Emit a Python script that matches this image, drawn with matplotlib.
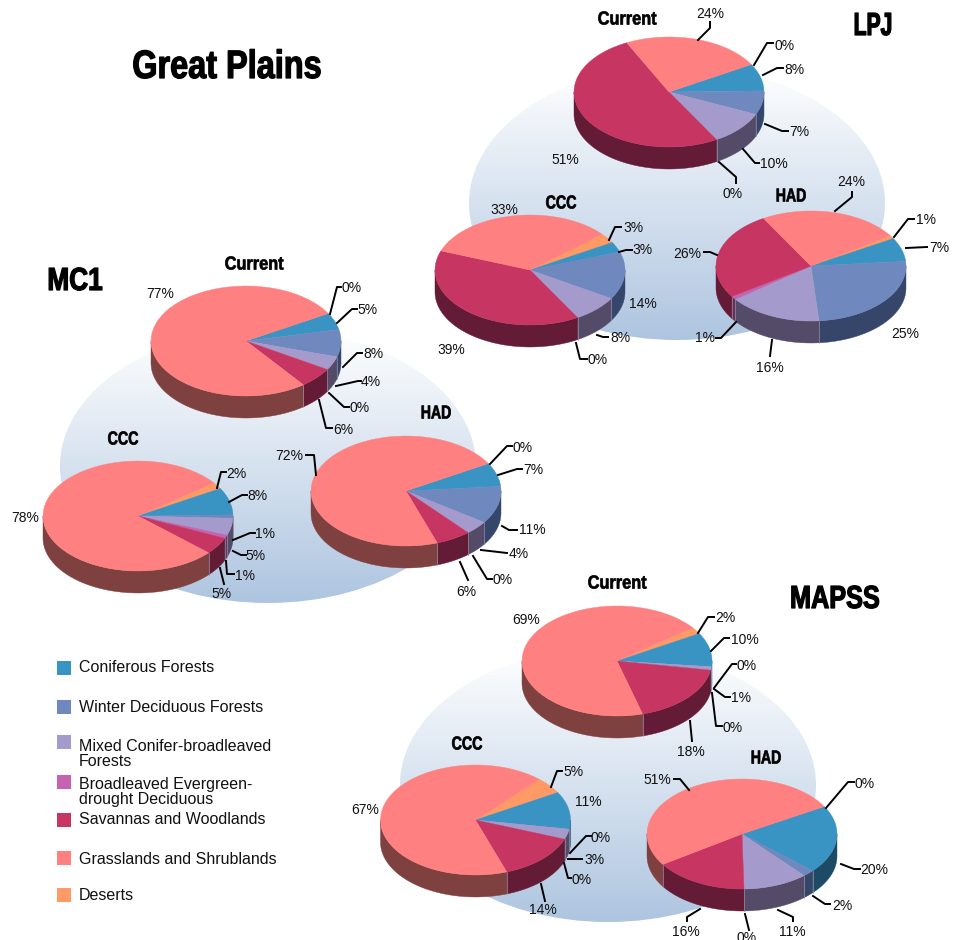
import numpy as np
import matplotlib
matplotlib.use("Agg")
import matplotlib.pyplot as plt
from matplotlib.colors import LinearSegmentedColormap
from matplotlib.patches import Ellipse, Polygon, Rectangle
from matplotlib.transforms import Affine2D
import matplotlib.patheffects as pe

# slice order is clockwise, as the labels go round each pie
biomes = ["Deserts", "Coniferous Forests", "Winter Deciduous Forests",
          "Mixed Conifer-broadleaved\nForests", "Broadleaved Evergreen-\ndrought Deciduous",
          "Savannas and Woodlands", "Grasslands and Shrublands"]
top_colors = ["#FF9966", "#3993C3", "#6F88BE", "#A49ACB", "#C463B0", "#C73663", "#FF8080"]
side_colors = ["#7F5233", "#1D4B66", "#36466A", "#534B68", "#623258", "#631B36", "#7F4040"]

lpj_current = [0, 8, 7, 10, 0, 51, 24]
lpj_ccc = [3, 3, 14, 8, 0, 39, 33]
lpj_had = [1, 7, 25, 16, 1, 26, 24]
mc1_current = [0, 5, 8, 4, 0, 6, 77]
mc1_ccc = [2, 8, 1, 5, 1, 5, 78]
mc1_had = [0, 7, 11, 4, 0, 6, 72]
mapss_current = [2, 10, 0, 1, 0, 18, 69]
mapss_ccc = [5, 11, 0, 3, 0, 14, 67]
mapss_had = [0, 20, 2, 11, 0, 16, 51]

# everything below is laid out in image pixels
RX, RY, DEPTH = 95, 55, 22
CONIFER_START = 30

# label position and leader line for each slice
lpj_current_labels = [
    (785, 44, [(754, 65), (767, 43), (773, 43)]),
    (794, 68, [(763, 75), (777, 68), (783, 68)]),
    (799, 131, [(765, 124), (782, 131), (788, 131)]),
    (774, 163, [(743, 149), (755, 163), (759, 163)]),
    (733, 193, [(719, 162), (736, 177), (736, 183)]),
    (565, 158, None),
    (710, 13, [(698, 40), (710, 28), (710, 22)]),
]
lpj_ccc_labels = [
    (633, 227, [(609, 240), (615, 227), (621, 227)]),
    (642, 249, [(619, 252), (626, 250), (632, 250)]),
    (643, 302, None),
    (620, 337, [(597, 335), (603, 337), (608, 337)]),
    (598, 359, [(576, 343), (580, 359), (587, 359)]),
    (451, 348, None),
    (504, 209, None),
]
lpj_had_labels = [
    (926, 219, [(894, 237), (908, 219), (914, 219)]),
    (939, 246, [(906, 248), (927, 247)]),
    (905, 332, None),
    (770, 367, [(772, 340), (770, 356)]),
    (705, 337, [(736, 322), (721, 338), (716, 338)]),
    (687, 252, [(717, 255), (710, 252), (704, 252)]),
    (851, 181, [(835, 211), (852, 197), (852, 192)]),
]
mc1_current_labels = [
    (352, 287, [(330, 314), (337, 287), (341, 287)]),
    (368, 308, [(337, 323), (352, 309), (357, 309)]),
    (373, 353, [(343, 367), (357, 353), (362, 353)]),
    (371, 381, [(336, 386), (358, 381), (361, 381)]),
    (360, 406, [(329, 393), (344, 407), (349, 407)]),
    (343, 428, [(319, 400), (326, 428), (332, 428)]),
    (160, 292, None),
]
mc1_ccc_labels = [
    (236, 472, [(217, 488), (221, 472), (226, 472)]),
    (257, 495, [(229, 502), (242, 495), (247, 495)]),
    (265, 533, [(233, 540), (250, 533), (255, 533)]),
    (256, 555, [(233, 551), (241, 555), (246, 555)]),
    (245, 574, [(226, 561), (227, 574), (234, 574)]),
    (221, 593, [(220, 568), (224, 584)]),
    (25, 516, None),
]
mc1_had_labels = [
    (523, 446, [(490, 464), (507, 446), (512, 446)]),
    (533, 468, [(498, 475), (517, 469), (522, 469)]),
    (532, 529, [(502, 526), (509, 530), (517, 530)]),
    (519, 553, [(481, 550), (507, 553)]),
    (503, 579, [(473, 556), (487, 579), (492, 579)]),
    (466, 590, [(460, 562), (468, 580)]),
    (289, 454, [(316, 475), (314, 455), (306, 455)]),
]
mapss_current_labels = [
    (725, 617, [(698, 633), (708, 617), (714, 617)]),
    (745, 638, [(711, 651), (724, 638), (729, 638)]),
    (747, 664, [(714, 688), (732, 664), (736, 664)]),
    (741, 697, [(714, 689), (725, 697), (730, 697)]),
    (733, 726, [(712, 693), (716, 726), (722, 726)]),
    (691, 751, [(690, 721), (692, 741)]),
    (526, 618, None),
]
mapss_ccc_labels = [
    (574, 771, [(551, 787), (557, 771), (562, 771)]),
    (588, 800, None),
    (601, 836, [(570, 853), (586, 836), (591, 836)]),
    (594, 859, [(568, 859), (582, 859)]),
    (582, 878, [(564, 863), (568, 878), (571, 878)]),
    (543, 909, [(541, 884), (545, 901)]),
    (365, 809, None),
]
mapss_had_labels = [
    (865, 782, [(826, 808), (848, 782), (854, 782)]),
    (874, 868, [(841, 864), (854, 869), (860, 869)]),
    (842, 904, [(813, 896), (825, 904), (830, 904)]),
    (792, 930, [(778, 910), (793, 917), (793, 921)]),
    (747, 936, [(745, 914), (749, 930)]),
    (686, 930, [(700, 909), (687, 917), (687, 921)]),
    (657, 779, [(689, 790), (680, 779), (674, 779)]),
]

pies = [
    (lpj_current, 669, 92, lpj_current_labels),
    (lpj_ccc, 530, 270, lpj_ccc_labels),
    (lpj_had, 811, 266, lpj_had_labels),
    (mc1_current, 246, 341, mc1_current_labels),
    (mc1_ccc, 138, 516, mc1_ccc_labels),
    (mc1_had, 406, 491, mc1_had_labels),
    (mapss_current, 617, 661, mapss_current_labels),
    (mapss_ccc, 475.5, 820, mapss_ccc_labels),
    (mapss_had, 742, 834, mapss_had_labels),
]
domes = [(677, 203), (268, 466), (608, 785)]
# text, x, y, size, horizontal squeeze
titles = [("Great Plains", 227, 67, 28.5, 0.82), ("LPJ", 873, 27, 23, 0.66),
          ("MC1", 75, 282, 23, 0.82), ("MAPSS", 835, 600, 23, 0.79),
          ("Current", 627, 20, 13.5, 0.87), ("CCC", 561, 204, 13.5, 0.76), ("HAD", 791, 197, 13.5, 0.75),
          ("Current", 254, 265, 13.5, 0.87), ("CCC", 123, 440, 13.5, 0.76), ("HAD", 436, 414, 13.5, 0.75),
          ("Current", 617, 584, 13.5, 0.87), ("CCC", 467, 745, 13.5, 0.76), ("HAD", 766, 759, 13.5, 0.75)]
legend_order = [1, 2, 3, 4, 5, 6, 0]
legend_swatch_y = [668, 707, 742, 782, 820, 858, 895]
legend_text_y = [668, 707, 754, 792, 820, 859, 896]

plt.rcParams["font.family"] = ["Liberation Sans", "DejaVu Sans"]


class Squeeze(pe.AbstractPathEffect):
    # no narrow bold font here, so condense the glyphs about the text centre
    def __init__(self, x0, sx, lw):
        super().__init__()
        self.x0, self.sx, self.lw = x0, sx, lw

    def draw_path(self, renderer, gc, tpath, affine, rgbFace=None):
        gc0 = renderer.new_gc()
        gc0.copy_properties(gc)
        gc0.set_linewidth(self.lw)
        gc0.set_foreground("black")
        squeeze = Affine2D().translate(-self.x0, 0).scale(self.sx, 1).translate(self.x0, 0)
        renderer.draw_path(gc0, tpath, affine + squeeze, rgbFace)
        gc0.restore()


def arc(cx, cy, t1, t2, drop=0):
    t = np.radians(np.linspace(t1, t2, 60))
    return np.column_stack([cx + RX * np.cos(t), cy - RY * np.sin(t) + drop])


def draw_pie(ax, values, cx, cy):
    a1 = CONIFER_START + values[0] * 3.6
    for v, top, side in zip(values, top_colors, side_colors):
        a2 = a1 - v * 3.6
        if v > 0:
            # wall only shows on the front half
            hi, lo = min(a1, 0), max(a2, -180)
            if hi > lo:
                wall = np.vstack([arc(cx, cy, hi, lo), arc(cx, cy, lo, hi, DEPTH)])
                ax.add_patch(Polygon(wall, fc=side, ec=side, lw=0.3, zorder=3))
                if lo > -180:
                    p = arc(cx, cy, lo, lo)[0]
                    ax.plot([p[0], p[0]], [p[1], p[1] + DEPTH], color="#9a8fa8", lw=0.5, zorder=3.5)
            face = np.vstack([[cx, cy], arc(cx, cy, a1, a2)])
            ax.add_patch(Polygon(face, fc=top, ec=top, lw=0.3, zorder=4))
        a1 = a2


fig = plt.figure(figsize=(9.61, 9.40), dpi=100)
ax = fig.add_axes([0, 0, 1, 1])

dome_cmap = LinearSegmentedColormap.from_list("dome", ["#FFFFFF", "#AEC5E0"])
grad = np.linspace(0, 1, 256).reshape(-1, 1)
for dx, dy in domes:
    im = ax.imshow(grad, cmap=dome_cmap, aspect="auto", zorder=1,
                   extent=(dx - 209, dx + 209, dy + 137, dy - 137))
    clip = Ellipse((dx, dy), 416, 274, transform=ax.transData)
    im.set_clip_path(clip)

for values, cx, cy, labels in pies:
    draw_pie(ax, values, cx, cy)
    for v, (lx, ly, leader) in zip(values, labels):
        ax.text(lx, ly + 1.5, f"{v}%", fontsize=10, ha="center", va="center", color="#111111", zorder=6)
        if leader:
            xs, ys = zip(*leader)
            ax.plot(xs, ys, color="black", lw=1.4, zorder=5, solid_joinstyle="round")

for txt, x, y, size, sx in titles:
    lw = 0.9 if size > 20 else 0.5
    ax.text(x, y, txt, fontsize=size, weight="bold", ha="center", va="center",
            path_effects=[Squeeze(x, sx, lw)], zorder=6)

for i, sy, ty in zip(legend_order, legend_swatch_y, legend_text_y):
    ax.add_patch(Rectangle((57, sy - 7), 14, 14, fc=top_colors[i], ec="none", zorder=6))
    ax.text(79, ty, biomes[i], fontsize=11.5, ha="left", va="center", color="#111111",
            linespacing=1.0, zorder=6)

ax.set_xlim(0, 961)
ax.set_ylim(940, 0)
ax.axis("off")
fig.savefig("out.png", dpi=100)
